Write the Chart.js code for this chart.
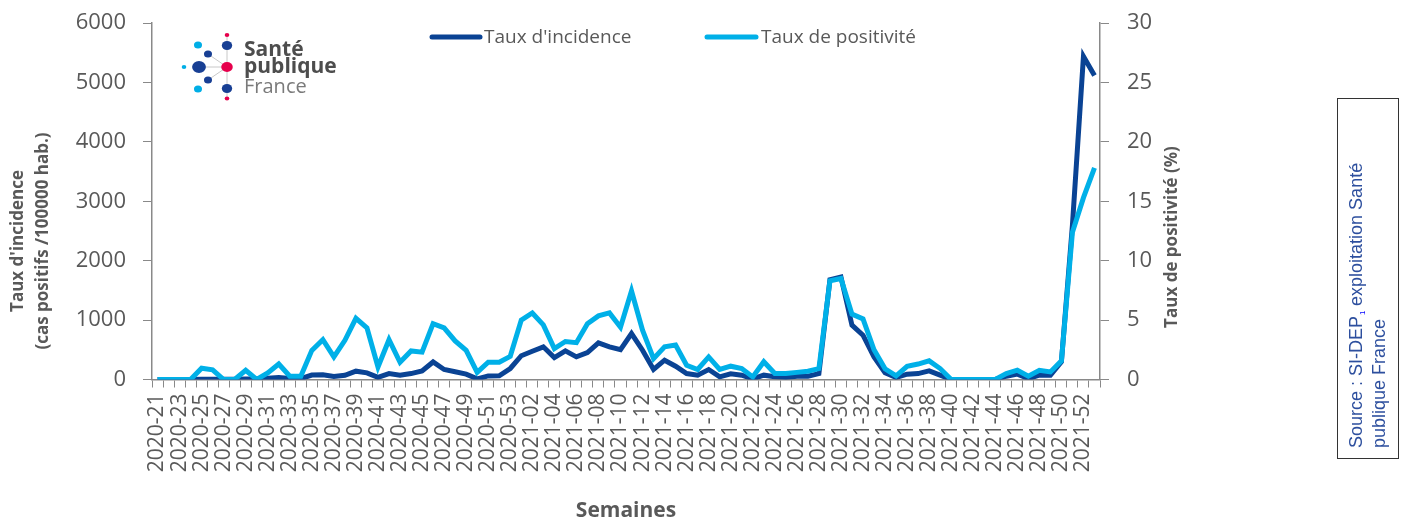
<!DOCTYPE html>
<html>
<head>
<meta charset="utf-8">
<script src="https://cdn.jsdelivr.net/npm/chart.js@4.4.1/dist/chart.umd.min.js"></script>
<style>
body { margin: 0; background: #fff; }
#wrap { position: relative; width: 1405px; height: 522px; }
</style>
</head>
<body>
<div id="wrap"><canvas id="chart"></canvas></div>
<script>
// semaines (une étiquette sur deux affichée)
var weeks = [
  '2020-21','2020-22','2020-23','2020-24','2020-25','2020-26','2020-27','2020-28','2020-29','2020-30',
  '2020-31','2020-32','2020-33','2020-34','2020-35','2020-36','2020-37','2020-38','2020-39','2020-40',
  '2020-41','2020-42','2020-43','2020-44','2020-45','2020-46','2020-47','2020-48','2020-49','2020-50',
  '2020-51','2020-52','2020-53','2021-01','2021-02','2021-03','2021-04','2021-05','2021-06','2021-07',
  '2021-08','2021-09','2021-10','2021-11','2021-12','2021-13','2021-14','2021-15','2021-16','2021-17',
  '2021-18','2021-19','2021-20','2021-21','2021-22','2021-23','2021-24','2021-25','2021-26','2021-27',
  '2021-28','2021-29','2021-30','2021-31','2021-32','2021-33','2021-34','2021-35','2021-36','2021-37',
  '2021-38','2021-39','2021-40','2021-41','2021-42','2021-43','2021-44','2021-45','2021-46','2021-47',
  '2021-48','2021-49','2021-50','2021-51','2021-52','2022-01'
];

// taux d'incidence (cas positifs /100000 hab.)
var incidence = [
  0, 0, 0, 0, 5, 5, 5, 5, 10, 10,
  20, 35, 15, 15, 75, 80, 50, 70, 140, 112,
  36, 100, 70, 100, 145, 295, 168, 130, 90, 11,
  60, 62, 185, 400, 475, 550, 370, 482, 381, 454,
  617, 550, 504, 774, 493, 168, 325, 224, 101, 73,
  168, 45, 95, 73, 11, 73, 45, 34, 56, 56,
  100, 1680, 1726, 914, 745, 381, 112, 34, 90, 100,
  146, 73, 0, 0, 0, 0, 0, 56, 90, 17,
  73, 73, 300, 2600, 5437, 5118
];

// taux de positivité (%)
var positivite = [
  0, 0, 0, 0, 0.95, 0.82, 0, 0, 0.78, 0,
  0.55, 1.3, 0.28, 0.28, 2.45, 3.35, 1.9, 3.3, 5.15, 4.35,
  1.05, 3.35, 1.45, 2.4, 2.3, 4.7, 4.35, 3.25, 2.45, 0.6,
  1.45, 1.45, 1.95, 5.0, 5.6, 4.6, 2.6, 3.2, 3.1, 4.7,
  5.35, 5.6, 4.4, 7.45, 4.15, 1.76, 2.75, 2.9, 1.2, 0.84,
  1.9, 0.85, 1.12, 0.92, 0.22, 1.5, 0.5, 0.5, 0.6, 0.7,
  0.92, 8.3, 8.5, 5.5, 5.1, 2.5, 0.9, 0.3, 1.1, 1.3,
  1.57, 0.92, 0, 0, 0, 0, 0, 0.5, 0.78, 0.28,
  0.78, 0.64, 1.57, 12.4, 15.3, 17.8
];

var darkBlue = '#0a4394';
var lightBlue = '#00b0e8';
var axisGrey = '#898989';
var textGrey = '#595959';

// legende, titres d'axes, logo et source dessines a la main
var decorations = {
  id: 'decorations',
  afterDraw: function(chart) {
    var ctx = chart.ctx;
    var ds = chart.data.datasets;
    ctx.save();

    // legende
    ctx.lineWidth = 5;
    ctx.lineCap = 'round';
    ctx.font = '19px "Open Sans"';
    ctx.textBaseline = 'middle';
    ctx.fillStyle = textGrey;
    var items = [[432, 480, 484], [707, 756, 761]];
    items.forEach(function(it, i) {
      ctx.strokeStyle = ds[i].borderColor;
      ctx.beginPath();
      ctx.moveTo(it[0], 37);
      ctx.lineTo(it[1], 37);
      ctx.stroke();
      ctx.fillText(ds[i].label, it[2], 38);
    });

    // titres des axes verticaux
    ctx.font = 'bold 17px "Open Sans"';
    ctx.textAlign = 'center';
    ctx.fillStyle = textGrey;
    ctx.save();
    ctx.translate(18, 241);
    ctx.rotate(-Math.PI / 2);
    ctx.fillText("Taux d'incidence", 0, 0);
    ctx.fillText('(cas positifs /100000 hab.)', 0, 25);
    ctx.restore();
    ctx.save();
    ctx.translate(1172, 237);
    ctx.rotate(-Math.PI / 2);
    ctx.fillText('Taux de positivité (%)', 0, 0);
    ctx.restore();

    // logo Santé publique France
    ctx.strokeStyle = '#c8c8c8';
    ctx.lineWidth = 1;
    ctx.lineCap = 'butt';
    ctx.beginPath();
    ctx.moveTo(227, 36); ctx.lineTo(227, 98);
    ctx.moveTo(199, 67); ctx.lineTo(227, 67);
    ctx.moveTo(208, 54); ctx.lineTo(227, 67);
    ctx.moveTo(208, 80); ctx.lineTo(227, 67);
    ctx.stroke();
    var dots = [
      [227, 35, 2, '#e6004c'], [198, 45, 3.5, '#00aee6'], [227, 45.5, 4.5, '#183f94'],
      [208, 54, 3.5, '#183f94'], [184, 67, 2, '#00aee6'], [199, 67, 6, '#183f94'],
      [227, 67, 5, '#e6004c'], [208, 80, 3.5, '#183f94'], [198, 89, 3.5, '#00aee6'],
      [227, 88.5, 4.5, '#183f94'], [227, 98.5, 2, '#e6004c']
    ];
    dots.forEach(function(d) {
      ctx.fillStyle = d[3];
      ctx.beginPath();
      ctx.ellipse(d[0], d[1], d[2] * 1.15, d[2], 0, 0, Math.PI * 2);
      ctx.fill();
    });
    ctx.textAlign = 'left';
    ctx.textBaseline = 'alphabetic';
    ctx.fillStyle = '#4d4d4d';
    ctx.font = 'bold 21px "Open Sans"';
    ctx.fillText('Santé', 244, 56);
    ctx.fillText('publique', 244, 73);
    ctx.fillStyle = '#7a7a7a';
    ctx.font = '20px "Open Sans"';
    ctx.fillText('France', 244, 93);

    // cadre source
    ctx.strokeStyle = '#333';
    ctx.lineWidth = 1;
    ctx.strokeRect(1337.5, 98.5, 61, 360);
    ctx.save();
    ctx.translate(1357, 448);
    ctx.rotate(-Math.PI / 2);
    ctx.textBaseline = 'middle';
    ctx.fillStyle = '#2d4f9e';
    ctx.font = '18px "Liberation Sans"';
    var part1 = 'Source : SI-DEP';
    ctx.fillText(part1, 0, 0);
    var w1 = ctx.measureText(part1).width;
    ctx.fillStyle = '#0000ff';
    ctx.font = '8px "Liberation Sans"';
    ctx.fillText('1', w1 + 1, 6);
    ctx.fillStyle = '#2d4f9e';
    ctx.font = '18px "Liberation Sans"';
    ctx.fillText(' exploitation Santé', w1 + 5, 0);
    ctx.fillText('publique France', 0, 23);
    ctx.restore();

    ctx.restore();
  }
};

// la marge haute des axes y inclut ticks.padding : on la remet a zero
function fixYScale(width) {
  return function(scale) {
    scale.width = width;
    scale.paddingTop = 0;
    scale.paddingBottom = 0;
  };
}

new Chart(document.getElementById('chart'), {
  type: 'line',
  data: {
    labels: weeks,
    datasets: [{
      label: "Taux d'incidence",
      data: incidence,
      yAxisID: 'y',
      borderColor: darkBlue,
      backgroundColor: darkBlue,
      borderWidth: 5,
      pointRadius: 0,
      tension: 0,
      order: 1
    }, {
      label: 'Taux de positivité',
      data: positivite,
      yAxisID: 'y1',
      borderColor: lightBlue,
      backgroundColor: lightBlue,
      borderWidth: 5,
      pointRadius: 0,
      tension: 0,
      order: 0
    }]
  },
  options: {
    responsive: true,
    maintainAspectRatio: false,
    animation: false,
    devicePixelRatio: 1,
    layout: { padding: { top: 23, left: 0, right: 0, bottom: 0 } },
    plugins: {
      legend: { display: false },
      tooltip: { enabled: false }
    },
    scales: {
      x: {
        offset: true,
        grid: { offset: true, drawOnChartArea: false, drawTicks: true, tickLength: 8, color: axisGrey },
        border: { display: true, color: axisGrey, width: 1.5 },
        ticks: {
          autoSkip: false,
          minRotation: 90,
          maxRotation: 90,
          padding: 6,
          color: textGrey,
          font: { family: 'Open Sans', size: 21 },
          callback: function(value, index) {
            return index % 2 === 0 ? this.getLabelForValue(value) : '';
          }
        },
        title: {
          display: true,
          text: 'Semaines',
          color: textGrey,
          font: { family: 'Open Sans', size: 21, weight: 'bold', lineHeight: 1 },
          padding: { top: 0, bottom: 0 }
        },
        afterFit: function(scale) { scale.height = 142.5; }
      },
      y: {
        position: 'left',
        min: 0,
        max: 6000,
        ticks: {
          stepSize: 1000, padding: 17, color: textGrey, font: { family: 'Open Sans', size: 22 },
          callback: function(value) { return String(value); }
        },
        grid: { drawOnChartArea: false, drawTicks: true, tickLength: 9, color: axisGrey },
        border: { display: true, color: axisGrey, width: 1.5 },
        afterFit: fixYScale(152)
      },
      y1: {
        position: 'right',
        min: 0,
        max: 30,
        ticks: { stepSize: 5, padding: 18, color: textGrey, font: { family: 'Open Sans', size: 22 } },
        grid: { drawOnChartArea: false, drawTicks: true, tickLength: 9, color: axisGrey },
        border: { display: true, color: axisGrey, width: 1.5 },
        afterFit: fixYScale(305)
      }
    }
  },
  plugins: [decorations]
});
</script>
</body>
</html>
